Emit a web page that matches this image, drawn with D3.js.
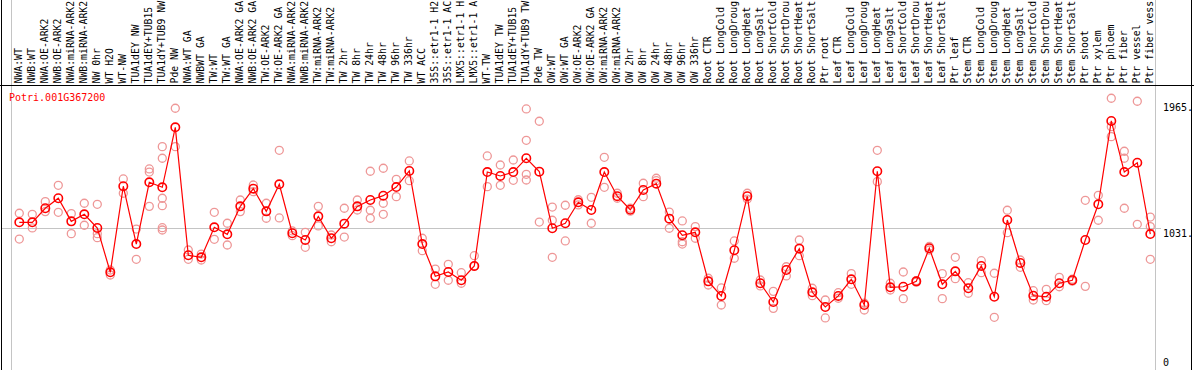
<!DOCTYPE html>
<html>
<head>
<meta charset="utf-8">
<script src="https://cdn.jsdelivr.net/npm/d3@7"></script>
<style>
  html, body { margin: 0; padding: 0; background: #fff; overflow: hidden; }
  svg { display: block; font-family: "DejaVu Sans Mono", monospace; font-size: 10px; }
</style>
</head>
<body>
<div id="chart"></div>
<script>
const geneId = "Potri.001G367200";

// sample names as far as the header shows them (14 characters)
const samples = [
  "NWA:WT", "NWB:WT", "NWA:OE-ARK2", "NWB:OE-ARK2", "NWA:miRNA-ARK2", "NWB:miRNA-ARK2",
  "NW 0hr", "WT H2O", "WT-NW", "TUA1dEY NW", "TUA1dEY+TUB15", "TUA1dY+TUB9 NW", "Pde NW",
  "NWA:WT GA", "NWBWT GA", "TW:WT", "TW:WT GA", "NWA:OE-ARK2 GA", "NWB:OE-ARK2 GA",
  "TW:OE-ARK2", "TW:OE-ARK2 GA", "NWA:miRNA-ARK2", "NWB:miRNA-ARK2", "TW:miRNA-ARK2",
  "TW:miRNA-ARK2", "TW 2hr", "TW 8hr", "TW 24hr", "TW 48hr", "TW 96hr", "TW 336hr",
  "WT ACC", "35S::etr1-1 H2", "35S::etr1-1 AC", "LMX5::etr1-1 H", "LMX5::etr1-1 A",
  "WT-TW", "TUA1dEY TW", "TUA1dEY+TUB15", "TUA1dY+TUB9 TW", "Pde TW",
  "OW:WT", "OW:WT GA", "OW:OE-ARK2", "OW:OE-ARK2 GA", "OW:miRNA-ARK2", "OW:miRNA-ARK2",
  "OW 2hr", "OW 8hr", "OW 24hr", "OW 48hr", "OW 96hr", "OW 336hr",
  "Root CTR", "Root LongCold", "Root LongDroug", "Root LongHeat", "Root LongSalt",
  "Root ShortCold", "Root ShortDrou", "Root ShortHeat", "Root ShortSalt", "Ptr root",
  "Leaf CTR", "Leaf LongCold", "Leaf LongDroug", "Leaf LongHeat", "Leaf LongSalt",
  "Leaf ShortCold", "Leaf ShortDrou", "Leaf ShortHeat", "Leaf ShortSalt", "Ptr leaf",
  "Stem CTR", "Stem LongCold", "Stem LongDroug", "Stem LongHeat", "Stem LongSalt",
  "Stem ShortCold", "Stem ShortDrou", "Stem ShortHeat", "Stem ShortSalt", "Ptr shoot",
  "Ptr xylem", "Ptr phloem", "Ptr fiber", "Ptr vessel", "Ptr fiber vess"
];

// number of samples in each block between the grey separators
const groupSizes = [13, 28, 12, 10, 10, 11, 1, 1, 1, 1];

const means = [
  1071, 1071, 1175, 1249, 1078, 1130, 1029, 701, 1338, 910, 1367, 1330, 1774,
  827, 812, 1034, 982, 1189, 1320, 1152, 1352, 990, 940, 1115, 953, 1061, 1189,
  1236, 1268, 1332, 1451, 910, 671, 703, 642, 748, 1443, 1414, 1443, 1545, 1446,
  1027, 1064, 1219, 1162, 1443, 1264, 1164, 1310, 1357, 1098, 975, 997,
  634, 526, 864, 1264, 620, 481, 718, 876, 553, 444,
  526, 649, 459, 1449, 590, 594, 634, 879, 612, 708,
  583, 748, 520, 1088, 770, 528, 520, 620, 642, 940,
  1204, 1821, 1443, 1512, 984
];

const replicates = [
  [1138, 947], [1130, 1029], [1224, 1150], [1345, 1145], [1135, 987], [1212, 1049],
  [1204, 987, 957], [718, 681], [1392, 1286], [1021, 797], [1466, 1443, 1189],
  [1631, 1545, 1249, 1194, 1031, 1014], [1915, 1631],
  [866, 797], [836, 792], [1145, 945], [1064, 903], [1236, 1150], [1347, 1298],
  [1212, 1101], [1604, 1103], [1007, 972], [997, 886], [1189, 1044], [977, 927],
  [1175, 962], [1236, 1162], [1449, 1160, 1101], [1471, 1212, 1130], [1389, 1261],
  [1525, 1379], [953, 861], [725, 612], [760, 642], [698, 620], [824, 745],
  [1562, 1335], [1495, 1345], [1532, 1382], [1910, 1678, 1426, 1384], [1819, 1073],
  [1184, 1086, 812], [1197, 933], [1238, 1200], [1256, 1064], [1552, 1330],
  [1286, 1249], [1175, 1153], [1360, 1261], [1397, 1379], [1147, 1027],
  [1081, 927, 910], [1039, 953],
  [657, 607], [585, 459], [933, 805], [1286, 1243], [644, 600], [560, 434],
  [742, 674], [940, 824], [583, 528], [496, 363],
  [550, 509], [691, 612], [472, 422], [1604, 1372], [620, 570], [703, 506],
  [640, 628], [866, 892], [691, 506], [812, 654],
  [624, 546], [787, 698], [694, 368], [1160, 994], [792, 738], [565, 496],
  [575, 491], [664, 594], [650, 635], [1234, 597],
  [1271, 1086], [1989, 1779, 1705], [1597, 1545, 1175], [1967, 1056], [1110, 1039, 797]
];

const yTicks = [0, 1031, 1965];
const gridValue = 1031;

const width = 1194;
const height = 370;
const headerBottom = 85;
const red = "#ff0000";
const pink = "#ee9797";
const grey = "#c4c4c4";

const svg = d3.select("#chart")
  .append("svg")
  .attr("width", width)
  .attr("height", height);

const x = d3.scaleBand()
  .domain(d3.range(samples.length))
  .range([11, 11 + 13 * samples.length])
  .paddingInner(0)
  .paddingOuter(0);

const y = d3.scaleLinear()
  .domain([0, 2065])
  .range([367, 88]);

const px = (i) => x(i) + 8.3;

// group separator positions (cell boundaries)
const bounds = [0].concat(d3.cumsum(groupSizes));
const edge = (d) => (d < samples.length ? x(d) : x(samples.length - 1) + x.bandwidth());
svg.append("g")
  .selectAll("line")
  .data(bounds)
  .join("line")
  .attr("x1", (d) => edge(d) + 0.5)
  .attr("x2", (d) => edge(d) + 0.5)
  .attr("y1", 0)
  .attr("y2", height)
  .attr("stroke", grey)
  .attr("stroke-width", 1);

// grid line at the reference value
svg.append("line")
  .attr("x1", 1)
  .attr("x2", 1161)
  .attr("y1", Math.round(y(gridValue)) + 0.5)
  .attr("y2", Math.round(y(gridValue)) + 0.5)
  .attr("stroke", grey);

// frame lines
svg.append("line")
  .attr("x1", 1.5).attr("x2", 1.5)
  .attr("y1", 0).attr("y2", height)
  .attr("stroke", "#000");
svg.append("line")
  .attr("x1", 1191.5).attr("x2", 1191.5)
  .attr("y1", 0).attr("y2", height)
  .attr("stroke", "#000");
svg.append("line")
  .attr("x1", 0).attr("x2", width)
  .attr("y1", headerBottom + 0.5).attr("y2", headerBottom + 0.5)
  .attr("stroke", "#000");

// rotated sample labels
svg.append("g")
  .attr("font-size", "9.8px")
  .selectAll("text")
  .data(samples)
  .join("text")
  .attr("transform", (d, i) => `translate(${x(i) + 10.5},83.5) rotate(-90)`)
  .attr("fill", "#000")
  .text((d) => d);

// right-hand value labels
svg.append("g")
  .selectAll("text")
  .data(yTicks)
  .join("text")
  .attr("x", 1163)
  .attr("y", (d) => Math.min(y(d) + 9.5, 366))
  .attr("fill", "#000")
  .text((d) => (d === 0 ? "0" : d + "."));

// gene title
svg.append("text")
  .attr("x", 9)
  .attr("y", 100.5)
  .attr("fill", red)
  .text(geneId);

// replicate circles
const repPoints = replicates.flatMap((vals, i) => vals.map((v) => ({ i, v })));
svg.append("g")
  .selectAll("circle")
  .data(repPoints)
  .join("circle")
  .attr("cx", (d) => px(d.i))
  .attr("cy", (d) => y(d.v))
  .attr("r", 4)
  .attr("fill", "none")
  .attr("stroke", pink)
  .attr("stroke-width", 1.3);

// mean line
svg.append("path")
  .datum(means)
  .attr("fill", "none")
  .attr("stroke", red)
  .attr("stroke-width", 1.2)
  .attr("d", d3.line().x((d, i) => px(i)).y((d) => y(d)));

// mean circles
svg.append("g")
  .selectAll("circle")
  .data(means)
  .join("circle")
  .attr("cx", (d, i) => px(i))
  .attr("cy", (d) => y(d))
  .attr("r", 4.2)
  .attr("fill", "none")
  .attr("stroke", red)
  .attr("stroke-width", 1.6);
</script>
</body>
</html>
